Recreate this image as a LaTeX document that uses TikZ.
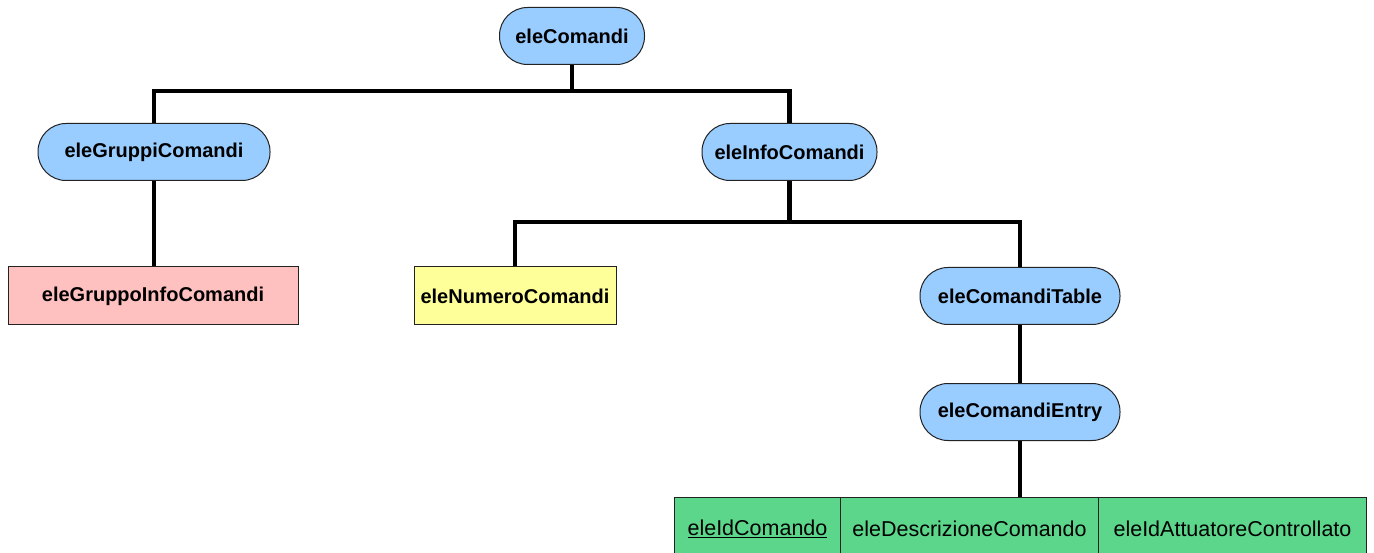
\documentclass[tikz,border=0pt]{standalone}
\usepackage{fontspec}
\setmainfont{Liberation Sans}
\definecolor{bluefill}{HTML}{99CCFF}
\definecolor{pinkfill}{HTML}{FFC0C0}
\definecolor{yellowfill}{HTML}{FFFF99}
\definecolor{greenfill}{HTML}{5CD68A}
\definecolor{bordergray}{HTML}{222222}
\tikzset{
  elem/.style={draw=bordergray, line width=1pt, fill=bluefill, rounded corners=28pt,
    inner sep=0pt, minimum height=57pt, font=\fontsize{20}{22}\selectfont\bfseries},
  boxnode/.style={draw=bordergray, line width=1pt, inner sep=0pt, minimum height=58pt,
    font=\fontsize{20}{22}\selectfont\bfseries},
  gbox/.style={draw=bordergray, line width=1pt, fill=greenfill, inner sep=0pt,
    minimum height=62pt, anchor=north west, font=\fontsize{21.5}{22}\selectfont},
  edge/.style={line width=4.5pt, black}
}
\begin{document}
\begin{tikzpicture}[x=1pt,y=-1pt]
\useasboundingbox (0,0) rectangle (1374,553);
% nodes
\node[elem, minimum width=145pt] (root) at (572,36) {eleComandi};
\node[elem, minimum width=232pt] (gc) at (154,152) {eleGruppiComandi};
\node[elem, minimum width=175pt] (ic) at (789.5,152) {eleInfoComandi};
\node[boxnode, fill=pinkfill, minimum width=290pt] (gic) at (153,296) {eleGruppoInfoComandi};
\node[boxnode, fill=yellowfill, minimum width=202pt] (nc) at (515,296) {eleNumeroComandi};
\node[elem, minimum width=200pt] (ct) at (1020,296) {eleComandiTable};
\node[elem, minimum width=200pt] (ce) at (1020,412) {eleComandiEntry};
\node[gbox, minimum width=166pt] (id) at (674,497) {\underline{eleIdComando}};
\node[gbox, minimum width=258pt] (desc) at (840,497) {eleDescrizioneComando};
\node[gbox, minimum width=268pt] (att) at (1098,497) {eleIdAttuatoreControllato};
% connectors
\coordinate (b1) at (572,91);
\coordinate (b2) at (789.5,222);
\draw[edge] (root.south) -- (b1);
\draw[edge] (gc.north) |- (b1) -| (ic.north);
\draw[edge] (gc.south) -- (gc.south |- gic.north);
\draw[edge] (ic.south) -- (b2);
\draw[edge] (nc.north) |- (b2) -| (ct.north);
\draw[edge] (ct.south) -- (ce.north);
\draw[edge] (ce.south) -- (ce.south |- desc.north);
\end{tikzpicture}
\end{document}
